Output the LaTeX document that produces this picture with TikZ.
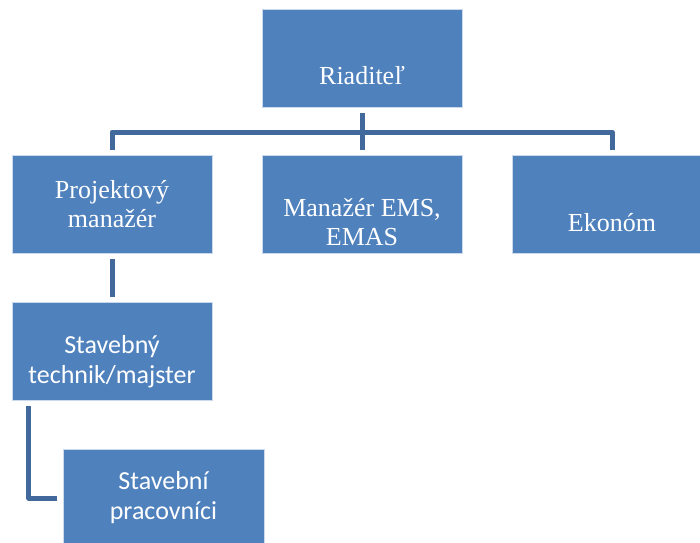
\documentclass[tikz,border=0pt]{standalone}
\usepackage{fontspec}
\setmainfont{Liberation Serif}
\newfontfamily\calibrifont{Carlito}
\definecolor{boxblue}{HTML}{4F81BD}
\definecolor{lineblue}{HTML}{41699B}
% empty first line that pushes the text down
\newcommand{\topgap}[1]{\rule{0pt}{#1}\\}

\begin{document}
\begin{tikzpicture}[
    x=1pt, y=-1pt,
    box/.style={rectangle, fill=boxblue, draw=white!70!boxblue, line width=0.6pt,
        minimum width=200pt, minimum height=98pt, inner sep=0pt, align=center,
        text=white, font=\fontsize{26}{29}\selectfont},
    sansbox/.style={box, font=\calibrifont\fontsize{26}{30}\selectfont},
    conn/.style={draw=lineblue, line width=5pt, line join=round}
]
\useasboundingbox (0,0) rectangle (700,542);
% Top level
\node[box] (riad) at (362,58) {\topgap{24pt}Riaditeľ};
% Second level
\node[box] (projekt) at (112,204) {Projektový\\manažér};
\node[box] (ems) at (362,204) {\topgap{26pt}Manažér EMS,\\EMAS};
\node[box] (ekonom) at (612,204) {\topgap{26pt}Ekonóm};
% Lower levels
\node[sansbox] (technik) at (112,351) {\topgap{10pt}Stavebný\\technik/majster};
\node[sansbox, minimum width=201pt] (pracov) at (163.5,498) {Stavební\\pracovníci};
% Connectors
\coordinate (bus) at (362,132);
\draw[conn] ([yshift=-6pt]riad.south) -- (bus);
\draw[conn] ([yshift=5pt]projekt.north) |- (bus) -| ([yshift=5pt]ekonom.north);
\draw[conn] (bus) -- ([yshift=5pt]ems.north);
\draw[conn] ([yshift=-6pt]projekt.south) -- ([yshift=5pt]technik.north);
\draw[conn] ([xshift=17pt,yshift=-6pt]technik.south west) |- ([xshift=-6pt]pracov.west);
\end{tikzpicture}
\end{document}
